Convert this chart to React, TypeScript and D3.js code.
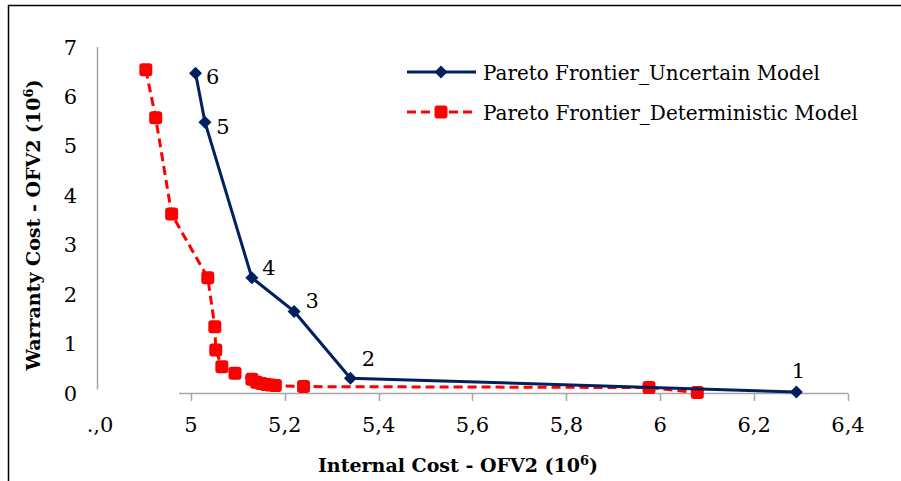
import React from "react";
import * as d3 from "d3";

const xTicks = [4.8, 5, 5.2, 5.4, 5.6, 5.8, 6, 6.2, 6.4];
const xTickLabels = [".,0", "5", "5,2", "5,4", "5,6", "5,8", "6", "6,2", "6,4"];
const yTicks = [0, 1, 2, 3, 4, 5, 6, 7];

const uncertainX = [5.01, 5.03, 5.13, 5.22, 5.34, 6.29];
const uncertainY = [6.47, 5.48, 2.33, 1.65, 0.3, 0.02];
const uncertainLabels = ["6", "5", "4", "3", "2", "1"];

const deterministicX = [4.904, 4.925, 4.959, 5.036, 5.051, 5.053, 5.066, 5.094, 5.13, 5.14, 5.15, 5.16, 5.17, 5.18, 5.24, 5.976, 6.079];
const deterministicY = [6.54, 5.57, 3.62, 2.33, 1.34, 0.87, 0.53, 0.4, 0.28, 0.22, 0.19, 0.17, 0.16, 0.15, 0.13, 0.11, 0.01];

const seriesNames = ["Pareto Frontier_Uncertain Model", "Pareto Frontier_Deterministic Model"];
const xTitle = "Internal Cost - OFV2 (10";
const yTitle = "Warranty Cost - OFV2 (10";

const BLUE = "#002060";
const RED = "#ff0000";
const AXIS = "#a6a6a6";
const FONT = "'DejaVu Serif', serif";

export default function App() {
  const x = d3.scaleLinear().domain([4.8, 6.4]).range([97, 848]);
  const y = d3.scaleLinear().domain([0, 7]).range([393, 47]);
  const line = d3.line<[number, number]>().x((d) => x(d[0])).y((d) => y(d[1]));
  const uPts: [number, number][] = uncertainX.map((v, i) => [v, uncertainY[i]]);
  const dPts: [number, number][] = deterministicX.map((v, i) => [v, deterministicY[i]]);
  const diamond = (cx: number, cy: number, r: number) =>
    `M${cx},${cy - r}L${cx + r},${cy}L${cx},${cy + r}L${cx - r},${cy}Z`;
  const labelOffsets: [number, number][] = [
    [17, 3], [18, 4], [17, -10], [18, -11], [18, -20], [2, -22],
  ];
  const M = 13;

  return (
    <svg width={901} height={481} style={{ position: "absolute", left: 0, top: 0, display: "block" }} fontFamily={FONT}>
      <rect x={0} y={0} width={901} height={481} fill="#fff" />
      <path d="M8.5,481V5.5H901" fill="none" stroke="#000" strokeWidth={1.5} />

      {/* y axis */}
      <line x1={97.5} x2={97.5} y1={y(7)} y2={y(0)} stroke={AXIS} strokeWidth={1.5} />
      {yTicks.map((t) => (
        <text key={"y" + t} x={77} y={y(t)} dy="0.36em" textAnchor="end" fontSize={21} fill="#000">
          {t}
        </text>
      ))}

      {/* x axis */}
      <line x1={x(4.8)} x2={x(6.4)} y1={393.5} y2={393.5} stroke={AXIS} strokeWidth={1.5} />
      {xTicks.map((t) => (
        <line key={"xt" + t} x1={Math.round(x(t)) + 0.5} x2={Math.round(x(t)) + 0.5} y1={393.5} y2={401} stroke={AXIS} strokeWidth={1.5} />
      ))}
      <rect x={86} y={389.5} width={93} height={22} fill="#fff" />
      {xTicks.map((t, i) => (
        <text key={"xl" + t} x={x(t) + (i === 0 ? 3 : 0)} y={432} textAnchor="middle" fontSize={21} fill="#000">
          {xTickLabels[i]}
        </text>
      ))}

      {/* deterministic series */}
      <path d={line(dPts) || ""} fill="none" stroke={RED} strokeWidth={3} strokeDasharray="9,5" />
      {dPts.map((p, i) => (
        <rect key={"d" + i} x={x(p[0]) - M / 2} y={y(p[1]) - M / 2} width={M} height={M} rx={3} fill={RED} />
      ))}

      {/* uncertain series */}
      <path d={line(uPts) || ""} fill="none" stroke={BLUE} strokeWidth={3} />
      {uPts.map((p, i) => (
        <path key={"u" + i} d={diamond(x(p[0]), y(p[1]), 6.5)} fill={BLUE} />
      ))}
      {uPts.map((p, i) => (
        <text key={"ul" + i} x={x(p[0]) + labelOffsets[i][0]} y={y(p[1]) + labelOffsets[i][1]} dy="0.36em" textAnchor="middle" fontSize={21} fill="#000">
          {uncertainLabels[i]}
        </text>
      ))}

      {/* legend */}
      <line x1={407} x2={476} y1={72} y2={72} stroke={BLUE} strokeWidth={3} />
      <path d={diamond(441, 72, 6.5)} fill={BLUE} />
      <text x={483} y={72} dy="0.36em" fontSize={21} fill="#000" textLength={337} lengthAdjust="spacingAndGlyphs">
        {seriesNames[0]}
      </text>
      <line x1={407} x2={476} y1={112} y2={112} stroke={RED} strokeWidth={3} strokeDasharray="9,5" />
      <rect x={441 - M / 2} y={112 - M / 2} width={M} height={M} rx={3} fill={RED} />
      <text x={483} y={112} dy="0.36em" fontSize={21} fill="#000" textLength={375} lengthAdjust="spacingAndGlyphs">
        {seriesNames[1]}
      </text>

      {/* axis titles */}
      <text x={458} y={472} textAnchor="middle" fontSize={19} fontWeight="bold" fill="#000">
        {xTitle}
        <tspan fontSize={13} dy={-7}>6</tspan>
        <tspan dy={7}>)</tspan>
      </text>
      <text transform="translate(40,225) rotate(-90)" textAnchor="middle" fontSize={19} fontWeight="bold" fill="#000">
        {yTitle}
        <tspan fontSize={13} dy={-7}>6</tspan>
        <tspan dy={7}>)</tspan>
      </text>
    </svg>
  );
}
